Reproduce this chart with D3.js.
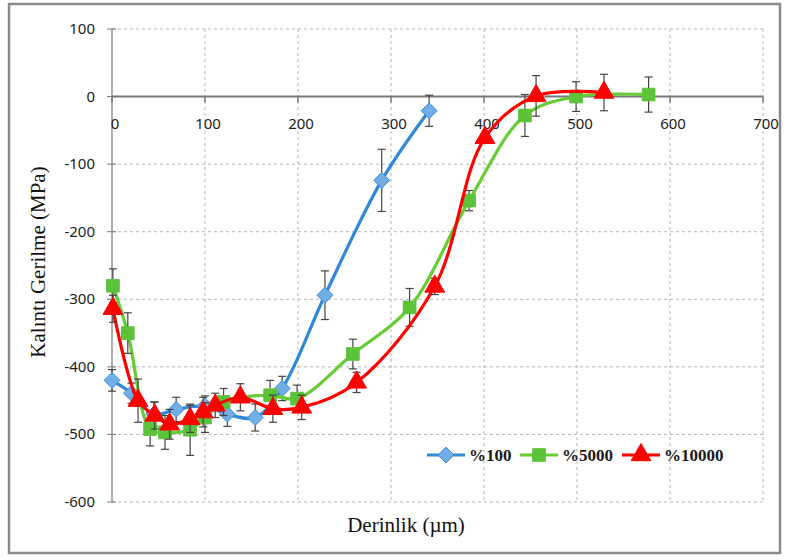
<!DOCTYPE html>
<html lang="tr">
<head>
    <meta charset="UTF-8">
    <title>Kalıntı Gerilme - Derinlik</title>
    <script src="https://d3js.org/d3.v7.min.js"></script>
    <style>
        body { margin: 0; background: #fff; }
        .tick-label { font-family: 'Noto Sans', sans-serif; font-size: 15px; fill: #222; }
        .axis-title { font-family: 'Liberation Serif', 'Times New Roman', serif; font-size: 21px; fill: #111; }
        .legend-text { font-family: 'Liberation Serif', 'Times New Roman', serif; font-size: 17px; font-weight: bold; fill: #1a1a1a; }
    </style>
</head>
<body>
    <svg width="787" height="560"></svg>
    <script>
        // series: depth (µm), stress (MPa), error (± MPa)
        const depth100 = [0, 21, 45, 69, 100, 124, 154, 183, 229, 290, 341];
        const stress100 = [-420, -439, -470, -463, -458, -470, -475, -432, -294, -124, -21];
        const err100 = [16, 15, 18, 18, 15, 18, 20, 18, 36, 46, 23];

        const depth5000 = [1, 17, 41, 57, 84, 100, 120, 170, 199, 259, 320, 384, 444, 499, 577];
        const stress5000 = [-280, -350, -492, -497, -493, -475, -452, -442, -447, -381, -312, -154, -28, 0, 3];
        const err5000 = [25, 30, 25, 25, 38, 22, 20, 22, 20, 22, 28, 15, 31, 22, 26];

        const depth10000 = [1, 28, 46, 62, 84, 98, 111, 138, 173, 204, 263, 347, 401, 456, 529];
        const stress10000 = [-314, -450, -472, -485, -477, -467, -457, -445, -462, -460, -423, -281, -61, 1, 6];
        const err10000 = [20, 32, 20, 22, 20, 22, 18, 20, 20, 18, 15, 12, 6, 30, 27];

        const seriesNames = ["%100", "%5000", "%10000"];
        const xTicks = [0, 100, 200, 300, 400, 500, 600, 700];
        const yTicks = [100, 0, -100, -200, -300, -400, -500, -600];

        const svg = d3.select("svg");

        const x = d3.scaleLinear().domain([0, 700]).range([112, 763]);
        const y = d3.scaleLinear().domain([-600, 100]).range([502, 29]);

        // chart frame
        svg.append("rect")
            .attr("x", 9).attr("y", 4)
            .attr("width", 771).attr("height", 549)
            .attr("fill", "#fff")
            .attr("stroke", "#8a8a8a")
            .attr("stroke-width", 2.5);

        // grid
        const grid = svg.append("g");
        grid.selectAll(".vg")
            .data(xTicks.filter(d => d > 0))
            .enter().append("line")
            .attr("x1", d => x(d)).attr("x2", d => x(d))
            .attr("y1", y(100)).attr("y2", y(-600))
            .attr("stroke", "#b5b5b5").attr("stroke-dasharray", "3,3");
        grid.selectAll(".hg")
            .data(yTicks.filter(d => d !== 0))
            .enter().append("line")
            .attr("x1", x(0)).attr("x2", x(700))
            .attr("y1", d => y(d)).attr("y2", d => y(d))
            .attr("stroke", "#b5b5b5").attr("stroke-dasharray", "3,3");

        // y axis
        svg.append("line")
            .attr("x1", x(0)).attr("x2", x(0))
            .attr("y1", y(100)).attr("y2", y(-600))
            .attr("stroke", "#777").attr("stroke-width", 1.2);
        svg.selectAll(".ytick")
            .data(yTicks)
            .enter().append("line")
            .attr("x1", x(0) - 5).attr("x2", x(0) + 4)
            .attr("y1", d => y(d)).attr("y2", d => y(d))
            .attr("stroke", "#777");
        svg.selectAll(".ylab")
            .data(yTicks)
            .enter().append("text")
            .attr("class", "tick-label")
            .attr("x", 95)
            .attr("y", d => y(d) + 5)
            .attr("text-anchor", "end")
            .text(d => d);

        // x axis at zero
        svg.append("line")
            .attr("x1", x(0)).attr("x2", x(700))
            .attr("y1", y(0)).attr("y2", y(0))
            .attr("stroke", "#777").attr("stroke-width", 2);
        svg.selectAll(".xtick")
            .data(xTicks)
            .enter().append("line")
            .attr("x1", d => x(d)).attr("x2", d => x(d))
            .attr("y1", y(0)).attr("y2", y(0) + 6)
            .attr("stroke", "#777").attr("stroke-width", 1.5);
        svg.selectAll(".xlab")
            .data(xTicks)
            .enter().append("text")
            .attr("class", "tick-label")
            .attr("x", d => x(d) + 3)
            .attr("y", y(0) + 32)
            .attr("text-anchor", "middle")
            .text(d => d);

        // titles
        svg.append("text")
            .attr("class", "axis-title")
            .attr("x", 406).attr("y", 532)
            .attr("text-anchor", "middle")
            .text("Derinlik (µm)");
        svg.append("text")
            .attr("class", "axis-title")
            .attr("transform", "translate(45,262) rotate(-90)")
            .attr("text-anchor", "middle")
            .text("Kalıntı Gerilme (MPa)");

        const series = [
            {name: seriesNames[0], xs: depth100, ys: stress100, es: err100, line: "#2f88d8", fill: "#72aee6", stroke: "#3a8cd8", shape: d3.symbolDiamond2, size: 160},
            {name: seriesNames[1], xs: depth5000, ys: stress5000, es: err5000, line: "#66cc33", fill: "#5cc23a", stroke: "#5cc23a", shape: d3.symbolSquare, size: 160},
            {name: seriesNames[2], xs: depth10000, ys: stress10000, es: err10000, line: "#ff0000", fill: "#ff0000", stroke: "#ff0000", shape: d3.symbolTriangle, size: 170}
        ];

        const line = d3.line()
            .x(d => x(d[0]))
            .y(d => y(d[1]))
            .curve(d3.curveCatmullRom.alpha(0.5));

        series.forEach(s => {
            const pts = s.xs.map((v, i) => [v, s.ys[i], s.es[i]]);
            const g = svg.append("g");

            g.append("path")
                .datum(pts)
                .attr("d", line)
                .attr("fill", "none")
                .attr("stroke", s.line)
                .attr("stroke-width", 3.2);

            // error bars
            const eb = g.selectAll(".eb").data(pts).enter().append("g")
                .attr("stroke", "#444").attr("stroke-width", 1.2);
            eb.append("line")
                .attr("x1", d => x(d[0])).attr("x2", d => x(d[0]))
                .attr("y1", d => y(d[1] + d[2])).attr("y2", d => y(d[1] - d[2]));
            eb.append("line")
                .attr("x1", d => x(d[0]) - 4).attr("x2", d => x(d[0]) + 4)
                .attr("y1", d => y(d[1] + d[2])).attr("y2", d => y(d[1] + d[2]));
            eb.append("line")
                .attr("x1", d => x(d[0]) - 4).attr("x2", d => x(d[0]) + 4)
                .attr("y1", d => y(d[1] - d[2])).attr("y2", d => y(d[1] - d[2]));

            g.selectAll(".mk").data(pts).enter().append("path")
                .attr("d", d3.symbol().type(s.shape).size(s.size))
                .attr("transform", d => `translate(${x(d[0])},${y(d[1])})`)
                .attr("fill", s.fill)
                .attr("stroke", s.stroke)
                .attr("stroke-width", 1);
        });

        // legend
        const legendX = [427, 520, 622];
        const legend = svg.selectAll(".lg").data(series).enter().append("g")
            .attr("transform", (d, i) => `translate(${legendX[i]},455)`);
        legend.append("line")
            .attr("x1", 0).attr("x2", 38)
            .attr("stroke", d => d.line).attr("stroke-width", 3.2);
        legend.append("path")
            .attr("d", d => d3.symbol().type(d.shape).size(d.size)())
            .attr("transform", "translate(19,0)")
            .attr("fill", d => d.fill)
            .attr("stroke", d => d.stroke);
        legend.append("text")
            .attr("class", "legend-text")
            .attr("x", 42).attr("y", 6)
            .text(d => d.name);
    </script>
</body>
</html>
